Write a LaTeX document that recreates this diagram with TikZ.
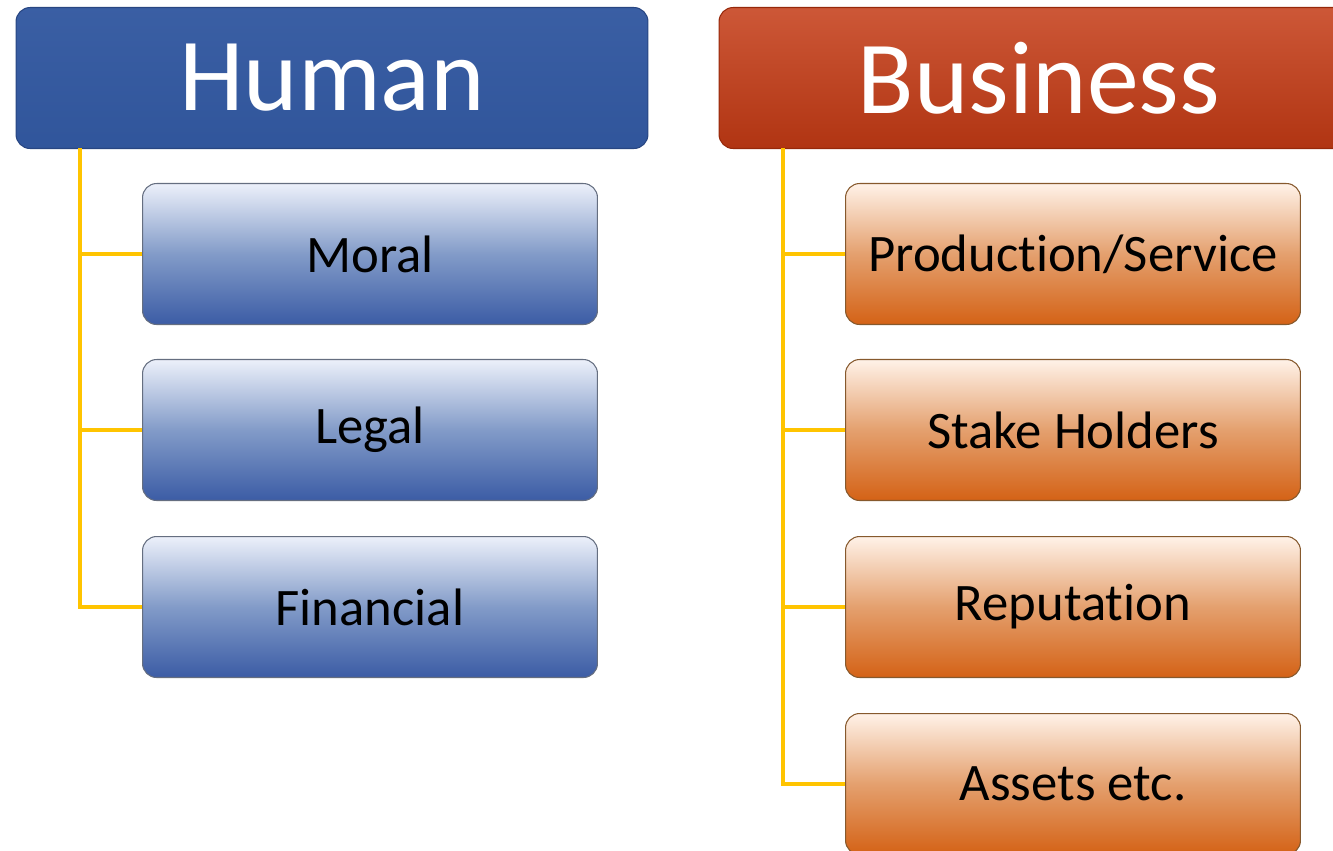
\documentclass[tikz,border=0pt]{standalone}
\usepackage{fontspec}
\setmainfont[Ligatures={NoCommon,NoContextual}]{Carlito}
\definecolor{humblue}{RGB}{50,88,160}
\definecolor{humdark}{RGB}{40,70,130}
\definecolor{busred}{RGB}{196,58,20}
\definecolor{busdark}{RGB}{150,40,10}
\definecolor{bluepale}{RGB}{236,240,250}
\definecolor{bluemid}{RGB}{130,155,200}
\definecolor{bluedeep}{RGB}{60,92,165}
\definecolor{orpale}{RGB}{255,242,232}
\definecolor{ormid}{RGB}{228,160,110}
\definecolor{ordeep}{RGB}{212,98,22}
\definecolor{twig}{RGB}{255,196,0}
\begin{document}
\begin{tikzpicture}[x=0.02cm, y=-0.02cm,
  header/.style={rounded corners=8, minimum height=2.82cm, text=white,
    font=\fontsize{59}{60}\selectfont, line width=0.6pt},
  humhead/.style={header, draw=humdark, top color=humblue!96!white, bottom color=humblue!97!black, minimum width=12.64cm},
  bushead/.style={header, draw=busdark, top color=busred!85!white, bottom color=busred!90!black, minimum width=12.8cm},
  item/.style={rounded corners=8, minimum width=9.1cm, minimum height=2.82cm,
    font=\fontsize{30}{32}\selectfont, line width=0.6pt},
  humitem/.style={item, draw=gray!70!humdark, top color=bluepale, bottom color=bluedeep, middle color=bluemid},
  busitem/.style={item, draw=brown!70!black, top color=orpale, bottom color=ordeep, middle color=ormid},
  branch/.style={draw=twig, line width=1.9pt}]

\useasboundingbox (0,0) rectangle (1333,850);
\clip (0,0) rectangle (1333,850);

%headers

\node[humhead] (human) at (332,78) {Human};
\node[bushead] (business) at (1039,78) {Business};

%trunk tops

\coordinate (humtrunk) at (80,148);
\coordinate (bustrunk) at (783,148);

%items under human

\node[humitem] (moral) at (370,254) {Moral};
\node[humitem] (legal) at (370,430) {Legal};
\node[humitem] (financial) at (370,607) {Financial};

%items under business

\node[busitem] (production) at (1073,254) {Production/Service};
\node[busitem] (stake) at (1073,430) {Stake Holders};
\node[busitem] (reputation) at (1073,607) {Reputation};
\node[busitem] (assets) at (1073,784) {Assets etc.};

%branches

\draw[branch] (humtrunk) |- (moral.west);
\draw[branch] (humtrunk) |- (legal.west);
\draw[branch] (humtrunk) |- (financial.west);
\draw[branch] (bustrunk) |- (production.west);
\draw[branch] (bustrunk) |- (stake.west);
\draw[branch] (bustrunk) |- (reputation.west);
\draw[branch] (bustrunk) |- (assets.west);
\end{tikzpicture}
\end{document}
